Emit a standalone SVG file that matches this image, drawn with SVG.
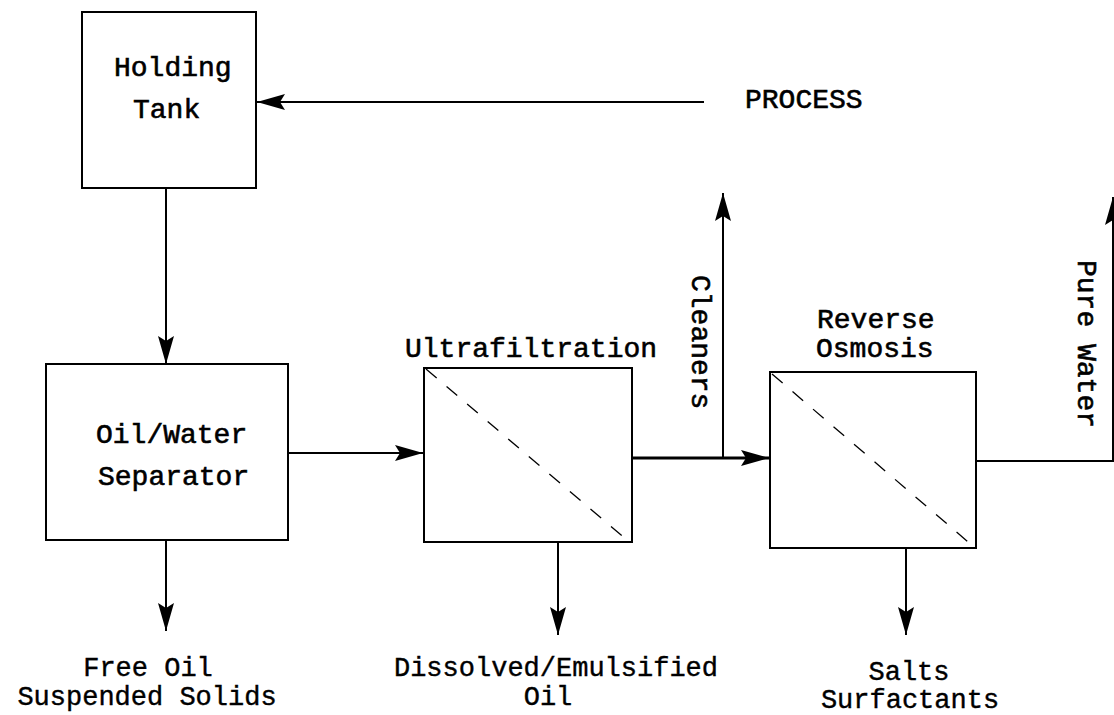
<svg xmlns="http://www.w3.org/2000/svg" width="1114" height="715" viewBox="0 0 1114 715">
<defs>
<style>
.box{fill:none;stroke:#000;stroke-width:2}
.ln{fill:none;stroke:#000;stroke-width:2}
.dash{fill:none;stroke:#000;stroke-width:1.3;stroke-dasharray:14 13}
.t{font-family:"Liberation Mono","Courier New",monospace;font-size:28px;fill:#000;stroke:#000;stroke-width:0.6}
.b{font-family:"Liberation Mono","Courier New",monospace;font-size:27px;fill:#000;stroke:#000;stroke-width:0.4}
</style>
<marker id="ah" viewBox="0 0 28 16" refX="28" refY="8" markerWidth="28" markerHeight="16" markerUnits="userSpaceOnUse" orient="auto">
<path d="M0,0 L28,8 L0,16 L5,8 Z" fill="#000"/>
</marker>
</defs>
<rect width="1114" height="715" fill="#fff"/>
<g id="holding-tank">
<rect class="box" x="82" y="12" width="174" height="176"/>
<text class="t" x="114" y="76">Holding</text>
<text class="t" x="133" y="118">Tank</text>
</g>
<g id="process">
<text class="t" x="745" y="108">PROCESS</text>
</g>
<g id="oil-water-separator">
<rect class="box" x="46" y="364" width="242" height="176"/>
<text class="t" x="96" y="443">Oil/Water</text>
<text class="t" x="98" y="485">Separator</text>
</g>
<g id="ultrafiltration">
<text class="t" x="405" y="357">Ultrafiltration</text>
<rect class="box" x="424" y="368" width="208" height="174"/>
<line class="dash" x1="426" y1="369" x2="628" y2="541"/>
</g>
<g id="reverse-osmosis">
<text class="t" x="817" y="328">Reverse</text>
<text class="t" x="816" y="357">Osmosis</text>
<rect class="box" x="770" y="372" width="206" height="176"/>
<line class="dash" x1="772" y1="374" x2="974" y2="547"/>
</g>
<g id="free-oil">
<text class="b" x="148" y="676" text-anchor="middle">Free Oil</text>
<text class="b" x="147" y="705" text-anchor="middle">Suspended Solids</text>
</g>
<g id="dissolved-oil">
<text class="b" x="556" y="676" text-anchor="middle">Dissolved/Emulsified</text>
<text class="b" x="548" y="705" text-anchor="middle">Oil</text>
</g>
<g id="salts">
<text class="b" x="909" y="680" text-anchor="middle">Salts</text>
<text class="b" x="910" y="708" text-anchor="middle">Surfactants</text>
</g>
<g id="labels">
<text class="t" transform="translate(692,275) rotate(90)">Cleaners</text>
<text class="t" transform="translate(1078,260) rotate(90)">Pure Water</text>
</g>
<g id="connectors">
<line class="ln" x1="704" y1="102" x2="257" y2="102" marker-end="url(#ah)"/>
<line class="ln" x1="166" y1="188" x2="166" y2="364" marker-end="url(#ah)"/>
<line class="ln" x1="288" y1="453" x2="423" y2="453" marker-end="url(#ah)"/>
<line class="ln" x1="632" y1="458" x2="769" y2="458" marker-end="url(#ah)" style="stroke-width:3"/>
<line class="ln" x1="723" y1="458" x2="723" y2="193" marker-end="url(#ah)"/>
<polyline class="ln" points="976,461 1113,461 1113,197" marker-end="url(#ah)"/>
<line class="ln" x1="166" y1="540" x2="166" y2="631" marker-end="url(#ah)"/>
<line class="ln" x1="558" y1="542" x2="558" y2="635" marker-end="url(#ah)"/>
<line class="ln" x1="906" y1="548" x2="906" y2="635" marker-end="url(#ah)"/>
</g>
</svg>
